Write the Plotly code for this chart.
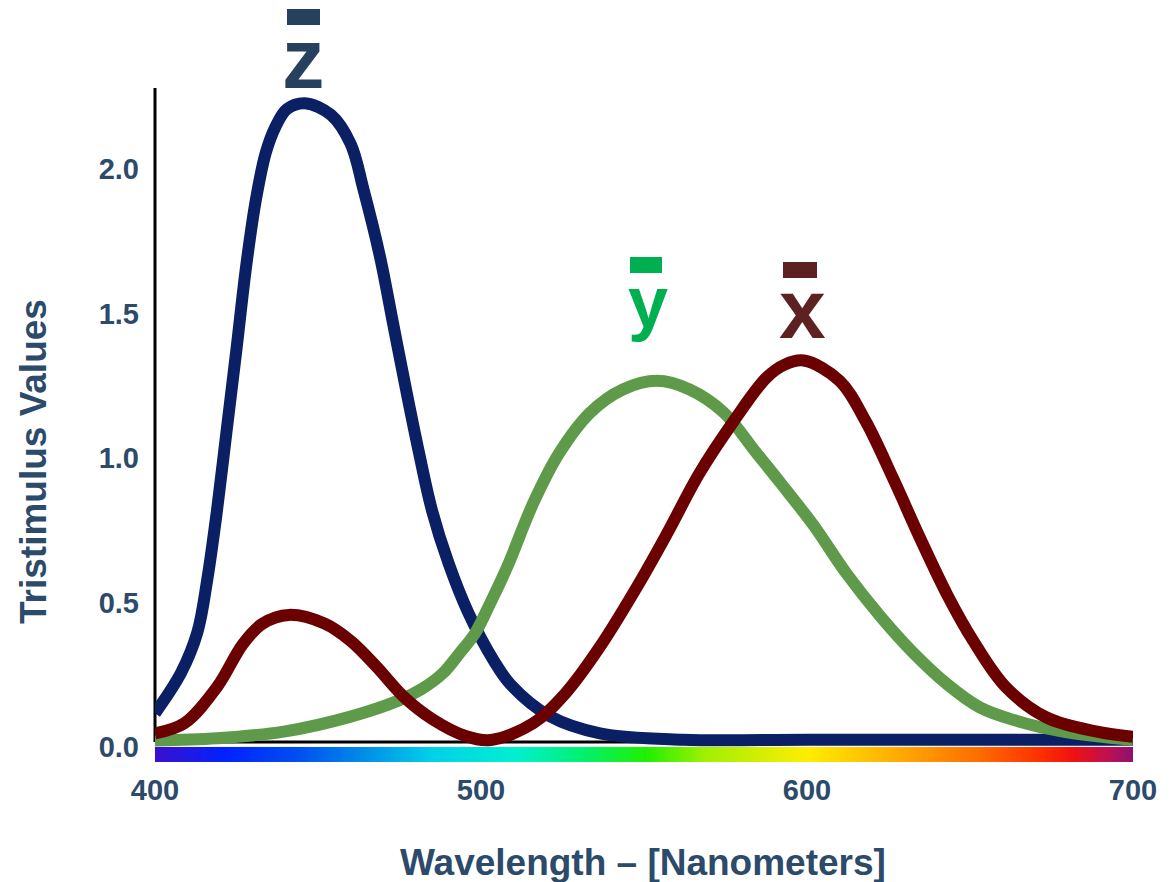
import numpy as np
import plotly.graph_objects as go

# ---------------- data ----------------
# z-bar (blue)
z_nm = [400, 408, 413, 416, 419, 422, 425, 428, 431, 434, 437, 440.5, 446,
        454, 460, 464, 469, 473, 477, 481, 485, 490, 496, 504, 509, 521, 536.5,
        562, 600, 650, 700]
z_val = [0.10, 0.24, 0.38, 0.56, 0.80, 1.08, 1.36, 1.65, 1.88, 2.04, 2.13, 2.19, 2.21,
         2.17, 2.07, 1.91, 1.68, 1.45, 1.22, 1.00, 0.80, 0.62, 0.45, 0.28, 0.20, 0.09, 0.03,
         0.008, 0.008, 0.008, 0.008]

# y-bar (green)
y_nm = [400, 419, 439.5, 460, 475, 482, 488.3, 493.6, 498.2, 502.8, 508, 516, 524, 533.5, 543.5,
        554, 564, 574.5, 584.5, 592, 602, 612, 622.5, 632.5, 643, 653, 663.5, 678.5, 700]
y_val = [0.005, 0.013, 0.036, 0.088, 0.145, 0.185, 0.238, 0.31, 0.377, 0.48, 0.605, 0.826, 1.00,
         1.14, 1.22, 1.25, 1.22, 1.14, 1.00, 0.895, 0.75, 0.585, 0.435, 0.31, 0.20, 0.12, 0.076,
         0.036, 0.007]

# x-bar (dark red)
x_nm = [400, 409, 419, 427, 433, 441, 452, 460, 468, 476, 485, 495.5, 503, 516, 526, 536.5,
        548, 557, 567, 577.5, 587.5, 593, 599, 610, 618, 626.5, 634.5, 643, 651, 661, 673.5,
        689, 700]
x_val = [0.03, 0.065, 0.19, 0.34, 0.41, 0.44, 0.41, 0.35, 0.26, 0.16, 0.08, 0.02, 0.007, 0.065,
         0.17, 0.33, 0.54, 0.72, 0.93, 1.11, 1.26, 1.305, 1.32, 1.25, 1.11, 0.91, 0.71, 0.51,
         0.35, 0.19, 0.085, 0.036, 0.018]

# spectrum band colour stops (normalised wavelength position, colour)
spectrum_stops = [0.0, 0.073, 0.148, 0.217, 0.283, 0.37, 0.437, 0.503, 0.563, 0.667,
                  0.752, 0.837, 0.905, 0.939, 0.973, 1.0]
spectrum_colors = ["#3a10d0", "#0022ff", "#0050f0", "#0090e8", "#00d0e8", "#00f0d0",
                   "#00f070", "#20f000", "#a0f000", "#ffee00", "#ffb000", "#ff7000",
                   "#ff3000", "#f01010", "#c01050", "#901070"]

x_ticks = [400, 500, 600, 700]
y_ticks = [0.0, 0.5, 1.0, 1.5, 2.0]
y_ticktext = ["0.0", "0.5", "1.0", "1.5", "2.0"]

# ---------------- layout geometry ----------------
W, H = 1176, 882
L, R, T, B = 155, 43, 88, 120
PW = W - L - R
PH = H - T - B


def fx(px):
    return (px - L) / PW


def fy(py):
    return (H - B - py) / PH


FONT = "Liberation Sans, Arial, sans-serif"
TXT = "#2c4a6a"

fig = go.Figure()

# spectrum band under the axis
band_edges = np.arange(400, 701)
band_mid = (band_edges[:-1] + band_edges[1:]) / 2.0
fig.add_trace(go.Heatmap(
    x=band_edges, y=[-0.069, -0.017], z=[band_mid],
    colorscale=[[s, c] for s, c in zip(spectrum_stops, spectrum_colors)],
    zmin=400, zmax=700, showscale=False, hoverinfo="skip"))

SM = 1.0
fig.add_trace(go.Scatter(x=z_nm, y=z_val, mode="lines", name="z",
                         line=dict(color="#0b1f64", width=12, shape="spline", smoothing=SM)))
fig.add_trace(go.Scatter(x=y_nm, y=y_val, mode="lines", name="y",
                         line=dict(color="#5e9a4a", width=12, shape="spline", smoothing=SM)))
fig.add_trace(go.Scatter(x=x_nm, y=x_val, mode="lines", name="x",
                         line=dict(color="#6b0000", width=12, shape="spline", smoothing=SM)))

shapes = [
    # left axis line
    dict(type="line", xref="paper", yref="paper", x0=0, x1=0, y0=fy(742), y1=1,
         line=dict(color="black", width=3), layer="below"),
    # bottom axis line at zero
    dict(type="line", xref="paper", yref="paper", x0=0, x1=1, y0=fy(742), y1=fy(742),
         line=dict(color="black", width=3), layer="below"),
    # overbars of the labels
    dict(type="rect", xref="paper", yref="paper", x0=fx(287), x1=fx(320), y0=fy(25), y1=fy(9),
         fillcolor="#27405e", line=dict(width=0)),
    dict(type="rect", xref="paper", yref="paper", x0=fx(630), x1=fx(662), y0=fy(273), y1=fy(257),
         fillcolor="#00b050", line=dict(width=0)),
    dict(type="rect", xref="paper", yref="paper", x0=fx(783), x1=fx(817), y0=fy(278), y1=fy(262),
         fillcolor="#5e2121", line=dict(width=0)),
]

annotations = [
    dict(text="<b>z</b>", x=fx(303.5), y=fy(58.5), xref="paper", yref="paper",
         xanchor="center", yanchor="middle", showarrow=False,
         font=dict(family=FONT, size=85, color="#27405e")),
    dict(text="<b>y</b>", x=fx(647.5), y=fy(302), xref="paper", yref="paper",
         xanchor="center", yanchor="middle", showarrow=False,
         font=dict(family=FONT, size=72, color="#00b050")),
    dict(text="<b>x</b>", x=fx(802.5), y=fy(309), xref="paper", yref="paper",
         xanchor="center", yanchor="middle", showarrow=False,
         font=dict(family=FONT, size=84, color="#5e2121")),
    dict(text="<b>Wavelength – [Nanometers]</b>", x=fx(643), y=fy(862), xref="paper", yref="paper",
         xanchor="center", yanchor="middle", showarrow=False,
         font=dict(family=FONT, size=37, color=TXT)),
    dict(text="<b>Tristimulus Values</b>", x=fx(34), y=fy(462), xref="paper", yref="paper",
         xanchor="center", yanchor="middle", showarrow=False, textangle=-90,
         font=dict(family=FONT, size=37, color=TXT)),
]

fig.update_layout(
    width=W, height=H,
    margin=dict(l=L, r=R, t=T, b=B, pad=0),
    paper_bgcolor="white", plot_bgcolor="white",
    showlegend=False,
    shapes=shapes, annotations=annotations,
    xaxis=dict(range=[400, 700], tickvals=x_ticks, ticks="", showgrid=False, zeroline=False,
               showline=False, ticklabelstandoff=8,
               tickfont=dict(family=FONT, size=29, color=TXT, weight="bold")),
    yaxis=dict(range=[-0.069, 2.263], tickvals=y_ticks, ticktext=y_ticktext, ticks="",
               showgrid=False, zeroline=False, showline=False, ticklabelstandoff=15,
               ticklabelshift=5,
               tickfont=dict(family=FONT, size=29, color=TXT, weight="bold")),
)

fig.write_html("out.html")
